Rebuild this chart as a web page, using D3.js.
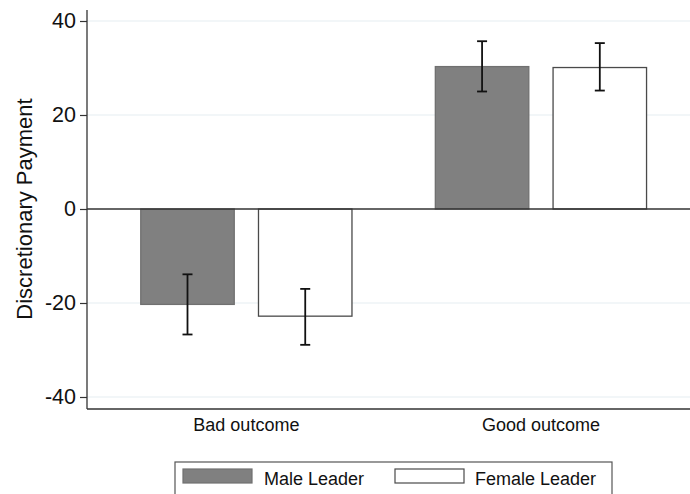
<!DOCTYPE html>
<html>
<head>
<meta charset="utf-8">
<script src="https://cdn.jsdelivr.net/npm/d3@7"></script>
<style>
  html, body { margin: 0; padding: 0; background: #fff; }
  svg { display: block; font-family: "Liberation Sans", Arial, sans-serif; }
</style>
</head>
<body>
<svg id="chart" width="690" height="494"></svg>
<script>
// Outcome categories and leader groups
const outcomes = ["Bad outcome", "Good outcome"];
const leaders = ["Male Leader", "Female Leader"];

// Mean discretionary payment, one array per leader group (order follows outcomes)
const maleMean = [-20.3, 30.3];
const femaleMean = [-22.8, 30.1];

// Confidence interval bounds
const maleLow = [-26.7, 25.0];
const maleHigh = [-13.9, 35.7];
const femaleLow = [-28.9, 25.2];
const femaleHigh = [-17.0, 35.3];

const yTicks = [-40, -20, 0, 20, 40];

const rows = [];
outcomes.forEach((o, i) => {
  rows.push({ outcome: o, leader: leaders[0], mean: maleMean[i], lo: maleLow[i], hi: maleHigh[i] });
  rows.push({ outcome: o, leader: leaders[1], mean: femaleMean[i], lo: femaleLow[i], hi: femaleHigh[i] });
});

const svg = d3.select("#chart");
const plotLeft = 87, plotRight = 690, plotTop = 10, plotBottom = 409;
const FONT = "'Liberation Sans', Arial, sans-serif";

const y = d3.scaleLinear().domain([-40, 40]).range([397, 21]);

const x0 = d3.scaleBand()
  .domain(outcomes)
  .range([plotLeft, plotRight])
  .paddingInner(0.283)
  .paddingOuter(0.165)
  .align(0.553);

const x1 = d3.scaleBand()
  .domain(leaders)
  .range([0, x0.bandwidth()])
  .paddingInner(0.206)
  .paddingOuter(0);

const fill = d3.scaleOrdinal().domain(leaders).range(["#808080", "#ffffff"]);
const stroke = d3.scaleOrdinal().domain(leaders).range(["#707070", "#4a4a4a"]);

// Horizontal gridlines
svg.append("g")
  .selectAll("line")
  .data(yTicks.filter(t => t !== 0))
  .join("line")
  .attr("x1", plotLeft).attr("x2", plotRight)
  .attr("y1", d => y(d)).attr("y2", d => y(d))
  .attr("stroke", "#e6eef1")
  .attr("stroke-width", 1.2);

// Bars
svg.append("g")
  .selectAll("rect")
  .data(rows)
  .join("rect")
  .attr("x", d => x0(d.outcome) + x1(d.leader))
  .attr("width", x1.bandwidth())
  .attr("y", d => y(Math.max(0, d.mean)))
  .attr("height", d => Math.abs(y(d.mean) - y(0)))
  .attr("fill", d => fill(d.leader))
  .attr("stroke", d => stroke(d.leader))
  .attr("stroke-width", 1.3);

// Zero reference line
svg.append("line")
  .attr("x1", plotLeft).attr("x2", plotRight)
  .attr("y1", y(0)).attr("y2", y(0))
  .attr("stroke", "#333")
  .attr("stroke-width", 1.5);

// Error bars
const err = svg.append("g").attr("stroke", "#111").attr("stroke-width", 1.8);
rows.forEach(d => {
  const cx = x0(d.outcome) + x1(d.leader) + x1.bandwidth() / 2;
  err.append("line").attr("x1", cx).attr("x2", cx).attr("y1", y(d.lo)).attr("y2", y(d.hi));
  err.append("line").attr("x1", cx - 5).attr("x2", cx + 5).attr("y1", y(d.lo)).attr("y2", y(d.lo));
  err.append("line").attr("x1", cx - 5).attr("x2", cx + 5).attr("y1", y(d.hi)).attr("y2", y(d.hi));
});

// Y axis
const yAxis = svg.append("g")
  .attr("transform", `translate(${plotLeft},0)`)
  .call(d3.axisLeft(y).tickValues(yTicks).tickFormat(d => String(d))
    .tickSize(7).tickPadding(4).tickSizeOuter(0));
yAxis.select(".domain").remove();
yAxis.selectAll(".tick line").attr("stroke", "#333").attr("stroke-width", 1.2);
yAxis.selectAll(".tick text").attr("font-size", 21.5).attr("fill", "#111")
  .attr("font-family", FONT);
svg.append("line")
  .attr("x1", plotLeft).attr("x2", plotLeft).attr("y1", plotTop).attr("y2", plotBottom)
  .attr("stroke", "#333").attr("stroke-width", 1.3);

// X axis
const xAxis = svg.append("g")
  .attr("transform", `translate(0,${plotBottom})`)
  .call(d3.axisBottom(x0).tickSize(0).tickPadding(9));
xAxis.select(".domain").remove();
xAxis.selectAll(".tick text").attr("font-size", 18).attr("fill", "#111")
  .attr("font-family", FONT);
svg.append("line")
  .attr("x1", plotLeft).attr("x2", plotRight).attr("y1", plotBottom).attr("y2", plotBottom)
  .attr("stroke", "#333").attr("stroke-width", 1.3);

// Y axis title
svg.append("text")
  .attr("transform", `translate(32,${y(0)}) rotate(-90)`)
  .attr("text-anchor", "middle")
  .attr("font-size", 22)
  .attr("font-family", FONT)
  .attr("fill", "#111")
  .text("Discretionary Payment");

// Legend
const legend = svg.append("g");
legend.append("rect")
  .attr("x", 175).attr("y", 462).attr("width", 437).attr("height", 40)
  .attr("fill", "#fff").attr("stroke", "#555").attr("stroke-width", 1.2);
const legendX = [183, 395];
const textX = [264, 475];
leaders.forEach((l, i) => {
  legend.append("rect")
    .attr("x", legendX[i]).attr("y", 469).attr("width", 69).attr("height", 14)
    .attr("fill", fill(l)).attr("stroke", stroke(l)).attr("stroke-width", 1.2);
  legend.append("text")
    .attr("x", textX[i]).attr("y", 485)
    .attr("font-size", 18).attr("font-family", FONT).attr("fill", "#111")
    .text(l);
});
</script>
</body>
</html>
